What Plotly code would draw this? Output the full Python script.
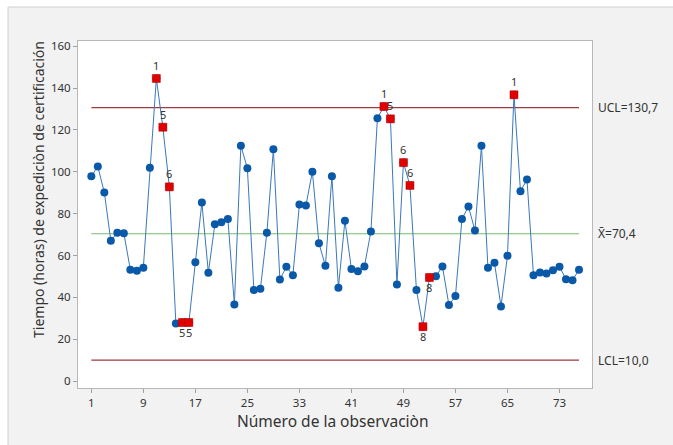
import plotly.graph_objects as go

# ---------------- data ----------------
obs = list(range(1, 77))
tiempo = [97.9, 102.5, 90.1, 67.0, 70.9, 70.7, 53.2, 52.7, 54.2, 101.9,
          144.6, 121.3, 92.8, 27.5, 28.0, 28.0, 56.8, 85.3, 51.8, 75.0,
          75.9, 77.5, 36.6, 112.4, 101.7, 43.5, 44.1, 70.9, 110.8, 48.6,
          54.6, 50.6, 84.4, 83.9, 100.0, 65.9, 55.1, 97.9, 44.6, 76.6,
          53.5, 52.5, 54.8, 71.5, 125.6, 131.2, 125.3, 46.2, 104.4, 93.5,
          43.5, 26.0, 49.5, 50.1, 54.8, 36.3, 40.6, 77.5, 83.4, 72.0,
          112.4, 54.2, 56.5, 35.7, 59.9, 136.8, 90.7, 96.3, 50.6, 51.9,
          51.4, 53.0, 54.6, 48.7, 48.2, 53.2]

# failed-test points (observation number, test label, label side)
fail_obs = [11, 12, 13, 15, 16, 46, 47, 49, 50, 52, 53, 66]
fail_lbl = ["1", "5", "6", "5", "5", "1", "5", "6", "6", "8", "8", "1"]
fail_side = ["top", "top", "top", "bottom", "bottom", "top", "top", "top", "top",
             "bottom", "bottom", "top"]

UCL = 130.7
XBAR = 70.4
LCL = 10.0
ucl_txt = "UCL=130,7"
xbar_txt = "X\u0304=70,4"
lcl_txt = "LCL=10,0"

x_ticks = [1, 9, 17, 25, 33, 41, 49, 57, 65, 73]
y_ticks = [0, 20, 40, 60, 80, 100, 120, 140, 160]

x_title = "Número de la observaciòn"
y_title = "Tiempo (horas) de expediciòn de certificación"

# ---------------- figure ----------------
W, H = 673, 445
ML, MR, MT, MB = 78, 81, 41, 57
PW, PH = W - ML - MR, H - MT - MB

def px_x(p):
    return (p - ML) / PW

def px_y(p):
    return (H - MB - p) / PH

FONT = "Noto Sans"
TXT = "#333333"
BLUE = "#0a58a8"
RED = "#e00000"

fig = go.Figure()

# control lines (span first..last observation)
for val, col, w in [(UCL, "#a03a3e", 1.3), (LCL, "#a03a3e", 1.3), (XBAR, "#7cb872", 1.1)]:
    fig.add_trace(go.Scatter(x=[obs[0], obs[-1]], y=[val, val], mode="lines",
                             line=dict(color=col, width=w), hoverinfo="skip",
                             showlegend=False))

# data line + points
fig.add_trace(go.Scatter(x=obs, y=tiempo, mode="lines+markers",
                         line=dict(color="#3a78ba", width=1),
                         marker=dict(color=BLUE, size=8, symbol="circle"),
                         showlegend=False))

fy = [tiempo[o - 1] for o in fail_obs]
fig.add_trace(go.Scatter(x=fail_obs, y=fy, mode="markers",
                         marker=dict(color=RED, size=8, symbol="square",
                                     line=dict(color="#b00000", width=0.5)),
                         showlegend=False))

# test labels next to failed points
for o, t, s in zip(fail_obs, fail_lbl, fail_side):
    fig.add_annotation(x=o, y=tiempo[o - 1], xref="x", yref="y", text=t,
                       showarrow=False, xanchor="center", yanchor="middle",
                       yshift=13 if s == "top" else -10,
                       font=dict(family=FONT, size=11, color=TXT))

# right-side limit labels
for val, t in [(UCL, ucl_txt), (XBAR, xbar_txt), (LCL, lcl_txt)]:
    fig.add_annotation(x=1, xref="paper", y=val, yref="y", text=t, showarrow=False,
                       xanchor="left", yanchor="middle", xshift=4,
                       font=dict(family=FONT, size=12, color=TXT))

# axis titles
fig.add_annotation(x=px_x(333), y=px_y(421), xref="paper", yref="paper",
                   text=x_title, showarrow=False, xanchor="center", yanchor="middle",
                   font=dict(family=FONT, size=15.5, color=TXT))
fig.add_annotation(x=px_x(38), y=px_y(190), xref="paper", yref="paper",
                   text=y_title, showarrow=False, textangle=-90,
                   xanchor="center", yanchor="middle",
                   font=dict(family=FONT, size=14, color=TXT))

# outer frame: white strips top/left and thin border
fig.add_shape(type="rect", xref="paper", yref="paper", x0=-0.3, x1=1.5,
              y0=px_y(7), y1=1.3, fillcolor="white", line_width=0, layer="below")
fig.add_shape(type="rect", xref="paper", yref="paper", x0=-0.3, x1=px_x(8),
              y0=-0.3, y1=1.3, fillcolor="white", line_width=0, layer="below")
fig.add_shape(type="rect", xref="paper", yref="paper", x0=px_x(8), x1=1.5,
              y0=-0.3, y1=px_y(7), fillcolor="rgba(0,0,0,0)",
              line=dict(color="#d0d0d0", width=1), layer="below")

axis_common = dict(showgrid=False, zeroline=False, showline=True, mirror=True,
                   linecolor="#b8b8b8", linewidth=1, ticks="outside", ticklen=4,
                   tickcolor="#a0a0a0", tickfont=dict(family=FONT, size=11.5, color=TXT))

fig.update_layout(
    width=W, height=H,
    margin=dict(l=ML, r=MR, t=MT, b=MB),
    paper_bgcolor="#f2f2f2",
    plot_bgcolor="white",
    xaxis=dict(range=[-1.05, 78], tickvals=x_ticks, **axis_common),
    yaxis=dict(range=[-3.3, 162.5], tickvals=y_ticks, **axis_common),
    showlegend=False,
)

fig.write_html("out.html")
